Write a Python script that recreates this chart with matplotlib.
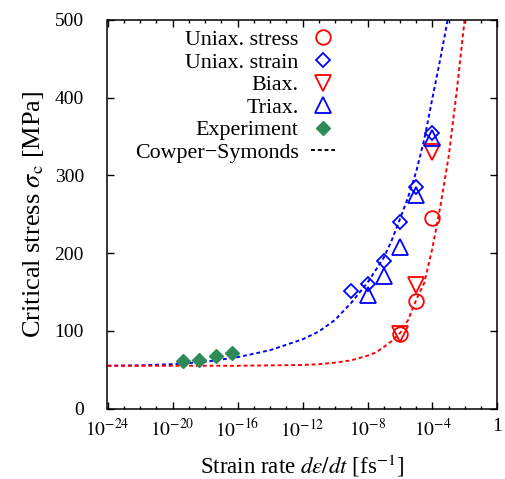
import numpy as np
import matplotlib
matplotlib.use("Agg")
import matplotlib.pyplot as plt
from matplotlib.lines import Line2D

plt.rcParams.update({"font.family": ["Liberation Serif", "DejaVu Serif"],
                     "mathtext.fontset": "stix"})

# 数据（从图上读取，应变率以 10 的指数记）
uniax_stress_exp = [-6, -5, -4]
uniax_stress_val = [96, 138, 245]
uniax_strain_exp = [-9, -8, -7, -6, -5, -4]
uniax_strain_val = [151, 160, 190, 240, 285, 354]
biax_exp = [-6, -5, -4]
biax_val = [96, 159, 330]
triax_exp = [-8, -7, -6, -5, -4]
triax_val = [146, 170, 208, 275, 348]
exp_rate_exp = [-19.35, -18.37, -17.35, -16.36]
exp_val = [61, 63, 68, 71]

# Cowper-Symonds 拟合曲线（读点）
cs_strain_exp = [-24, -22, -20, -18, -16, -14, -12, -11, -10, -9, -8, -7,
                 -6.5, -6, -5.5, -5, -4.5, -4, -3.5, -3]
cs_strain_val = [55, 55.5, 57, 60, 66, 75, 89, 99, 114, 136, 162, 194,
                 217, 244, 272, 305, 347, 400, 452, 508]
cs_stress_exp = [-24, -20, -16, -14, -12, -11, -10, -9, -8, -7.5, -7, -6.5,
                 -6, -5.5, -5, -4.5, -4, -3.5, -3, -2.5, -2]
cs_stress_val = [55, 55, 55, 55.5, 56, 57, 59, 62, 68, 72, 79, 87,
                 97, 114, 140, 162, 207, 262, 325, 410, 505]

xtick_exp = [-24, -20, -16, -12, -8, -4, 0]
xtick_labels = ["$10^{-24}$", "$10^{-20}$", "$10^{-16}$", "$10^{-12}$",
                "$10^{-8}$", "$10^{-4}$", "1"]
ytick_vals = [0, 100, 200, 300, 400, 500]

RED = "#ff0000"
BLUE = "#0000ff"
GREEN = "#2e8b57"


def rate(e):
    return 10.0 ** np.asarray(e, dtype=float)


fig = plt.figure(figsize=(5.06, 4.79), dpi=100)
ax = fig.add_axes([107.5 / 506, 1 - 408.5 / 479, 390 / 506, 388.5 / 479])

dash = (0, (2.0, 1.5))
ax.plot(rate(cs_strain_exp), cs_strain_val, color=BLUE, lw=1.4, ls=dash, zorder=2)
ax.plot(rate(cs_stress_exp), cs_stress_val, color=RED, lw=1.4, ls=dash, zorder=2)

mew = 1.3
ax.plot(rate(uniax_stress_exp), uniax_stress_val, "o", ms=10.5, mfc="none",
        mec=RED, mew=mew, ls="none", label="Uniax. stress", zorder=3)
ax.plot(rate(uniax_strain_exp), uniax_strain_val, "D", ms=7.6, mfc="none",
        mec=BLUE, mew=mew, ls="none", label="Uniax. strain", zorder=3)
ax.plot(rate(biax_exp), biax_val, "v", ms=11, mfc="none",
        mec=RED, mew=mew, ls="none", label="Biax.", zorder=3)
ax.plot(rate(triax_exp), triax_val, "^", ms=11, mfc="none",
        mec=BLUE, mew=mew, ls="none", label="Triax.", zorder=3)
ax.plot(rate(exp_rate_exp), exp_val, "D", ms=7.0, color=GREEN,
        ls="none", label="Experiment", zorder=3)

ax.set_xscale("log")
ax.set_xlim(1e-24, 1)
ax.set_ylim(0, 500)
ax.set_xticks(rate(xtick_exp))
ax.set_xticklabels(xtick_labels)
ax.set_xticks(rate(np.arange(-24, 1)), minor=True)
ax.set_xticklabels([], minor=True)
ax.set_yticks(ytick_vals)
ax.set_yticklabels([str(v) for v in ytick_vals])

ax.tick_params(which="both", direction="in", top=True, right=True, width=1.0)
ax.tick_params(which="major", length=5)
ax.tick_params(which="minor", length=2.5)
ax.tick_params(axis="y", which="major", labelsize=14, pad=17)
ax.tick_params(axis="x", which="major", labelsize=14, pad=7)
for s in ax.spines.values():
    s.set_linewidth(1.1)

ax.set_xlabel(r"Strain rate $d\varepsilon/dt$ [fs$^{-1}$]", fontsize=16.5, labelpad=9)
ax.set_ylabel(r"Critical stress $\sigma_{\rm c}$ [MPa]", fontsize=19, labelpad=6)

handles, labels = ax.get_legend_handles_labels()
handles.append(Line2D([], [], color="black", lw=1.4, ls=dash))
labels.append("Cowper\u2212Symonds")
leg = ax.legend(handles, labels, loc="upper right", bbox_to_anchor=(0.583, 0.975),
                frameon=False, markerfirst=False, fontsize=15.8, borderpad=0,
                borderaxespad=0, handlelength=1.1, handletextpad=0.55,
                labelspacing=0.1, numpoints=1)
# 文字右对齐（gnuplot 风格图例）
for col in leg._legend_handle_box.get_children():
    col.align = "right"

plt.savefig("out.png", dpi=100)
